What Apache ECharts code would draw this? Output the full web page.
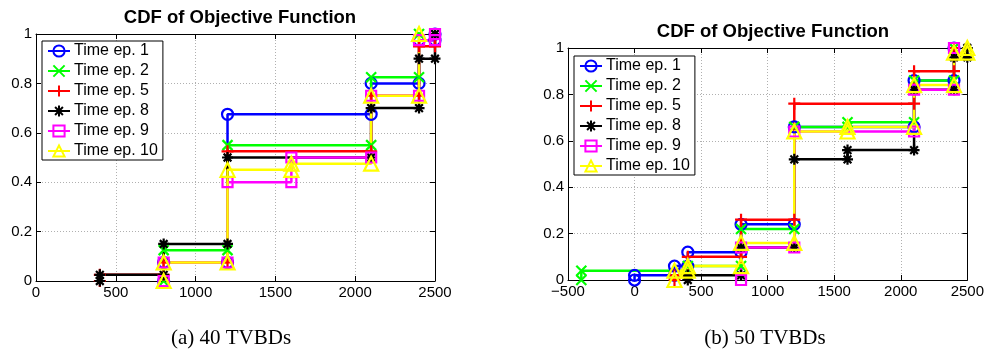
<!DOCTYPE html>
<html>
<head>
<meta charset="utf-8">
<script src="https://cdn.jsdelivr.net/npm/echarts@6/dist/echarts.min.js"></script>
<style>
  html, body { margin: 0; padding: 0; background: #fff; }
  #chart { width: 987px; height: 352px; }
</style>
</head>
<body>
<div id="chart"></div>
<script>
// ---------------------------------------------------------------------------
// data : steps of each CDF (x where it jumps, value after the jump)
const seriesNames = ['Time ep. 1', 'Time ep. 2', 'Time ep. 5', 'Time ep. 8', 'Time ep. 9', 'Time ep. 10'];

// (a) 40 TVBDs
const tA1 = [800, 1200, 2100, 2400, 2500];
const fA1 = [0.075, 0.675, 0.8, 0.975, 1];
const tA2 = [800, 1200, 2100, 2400];
const fA2 = [0.125, 0.55, 0.825, 1];
const tA5 = [400, 800, 1200, 2100, 2400, 2500];
const fA5 = [0.025, 0.075, 0.525, 0.75, 0.95, 1];
const tA8 = [400, 800, 1200, 2100, 2400, 2500];
const fA8 = [0.025, 0.15, 0.5, 0.7, 0.9, 1];
const tA9 = [800, 1200, 1600, 2100, 2400, 2500];
const fA9 = [0.075, 0.4, 0.5, 0.75, 0.975, 1];
const tA10 = [800, 1200, 1600, 2100, 2400];
const fA10 = [0.075, 0.45, 0.475, 0.75, 1];

// (b) 50 TVBDs
const tB1 = [0, 300, 400, 800, 1200, 2100, 2400];
const fB1 = [0.02, 0.06, 0.12, 0.24, 0.66, 0.86, 1];
const tB2 = [-400, 400, 800, 1200, 1600, 2100, 2400];
const fB2 = [0.04, 0.06, 0.22, 0.66, 0.68, 0.86, 1];
const tB5 = [300, 400, 800, 1200, 2100, 2400];
const fB5 = [0.02, 0.1, 0.26, 0.76, 0.9, 1];
const tB8 = [400, 800, 1200, 1600, 2100, 2400, 2500];
const fB8 = [0.02, 0.14, 0.52, 0.56, 0.82, 0.96, 1];
const tB9 = [800, 1200, 2100, 2400];
const fB9 = [0.14, 0.64, 0.82, 1];
const tB10 = [300, 400, 800, 1200, 1600, 2100, 2400, 2500];
const fB10 = [0.04, 0.06, 0.16, 0.64, 0.66, 0.84, 0.98, 1];

const xTicksA = [0, 2500];
const xTicksB = [-500, 2500];
const tickStep = 500;

// ---------------------------------------------------------------------------
const colors = ['#0000ff', '#00ff00', '#ff0000', '#000000', '#ff00ff', '#ffff00'];
const symbols = [
  'circle',
  'path://M0,0L10,10M10,0L0,10',
  'path://M5,0L5,10M0,5L10,5',
  'path://M5,0L5,10M0,5L10,5M1.5,1.5L8.5,8.5M8.5,1.5L1.5,8.5',
  'rect',
  'triangle'
];
const symbolSizes = [11, 10, 12, 11, 10, 14];
const fontFamily = '"Liberation Sans", Arial, Helvetica, sans-serif';

// turn a list of steps into the corners of a staircase
function stairs(t, f) {
  'use strict';
  let pts = [[t[0], 0]];
  for (let i = 0; i < t.length; i++) {
    pts.push([t[i], f[i]]);
    if (i + 1 < t.length) {
      pts.push([t[i + 1], f[i]]);
    }
  }
  return pts;
}

function makeSeries(k, t, f, axisIdx) {
  'use strict';
  return {
    name: seriesNames[k],
    type: 'line',
    xAxisIndex: axisIdx,
    yAxisIndex: axisIdx,
    data: stairs(t, f),
    clip: false,
    showSymbol: true,
    showAllSymbol: true,
    symbol: symbols[k],
    symbolSize: symbolSizes[k],
    lineStyle: {color: colors[k], width: 2.5},
    itemStyle: {color: 'rgba(0,0,0,0)', borderColor: colors[k], borderWidth: 2.2},
    emphasis: {disabled: true},
    animation: false
  };
}

function minusSign(v) {
  return String(v).replace('-', '\u2212');
}

function bottomAxis(gridIdx, range) {
  return {
    gridIndex: gridIdx, type: 'value', position: 'bottom',
    min: range[0], max: range[1], interval: tickStep,
    axisLine: {show: true, onZero: false, lineStyle: {color: '#000', width: 1}},
    axisTick: {show: true, inside: true, length: 5, lineStyle: {color: '#000'}},
    axisLabel: {color: '#000', fontSize: 15, fontFamily: fontFamily, margin: 4, formatter: minusSign},
    splitLine: {show: true, lineStyle: {color: '#b0b0b0', type: [1, 2], width: 1}}
  };
}
function topAxis(gridIdx, range) {
  return {
    gridIndex: gridIdx, type: 'value', position: 'top',
    min: range[0], max: range[1], interval: tickStep,
    axisLine: {show: true, onZero: false, lineStyle: {color: '#000', width: 1}},
    axisTick: {show: true, inside: true, length: 5, lineStyle: {color: '#000'}},
    axisLabel: {show: false},
    splitLine: {show: false}
  };
}
function leftAxis(gridIdx) {
  return {
    gridIndex: gridIdx, type: 'value', position: 'left',
    min: 0, max: 1, interval: 0.2,
    axisLine: {show: true, onZero: false, lineStyle: {color: '#000', width: 1}},
    axisTick: {show: true, inside: true, length: 5, lineStyle: {color: '#000'}},
    axisLabel: {color: '#000', fontSize: 15, fontFamily: fontFamily, margin: 4},
    splitLine: {show: true, lineStyle: {color: '#b0b0b0', type: [1, 2], width: 1}}
  };
}
function rightAxis(gridIdx) {
  return {
    gridIndex: gridIdx, type: 'value', position: 'right',
    min: 0, max: 1, interval: 0.2,
    axisLine: {show: true, onZero: false, lineStyle: {color: '#000', width: 1}},
    axisTick: {show: true, inside: true, length: 5, lineStyle: {color: '#000'}},
    axisLabel: {show: false},
    splitLine: {show: false}
  };
}

function legendAt(left, top) {
  return {
    orient: 'vertical',
    left: left, top: top,
    data: seriesNames,
    backgroundColor: '#fff',
    borderColor: '#000', borderWidth: 1, borderRadius: 0,
    padding: [2, 5, 1, 5],
    itemGap: 4,
    itemWidth: 22, itemHeight: 14,
    selectedMode: false,
    textStyle: {color: '#000', fontSize: 16, fontFamily: fontFamily, padding: [0, 0, 0, -1]}
  };
}

const tAll = [tA1, tA2, tA5, tA8, tA9, tA10];
const fAll = [fA1, fA2, fA5, fA8, fA9, fA10];
const tBll = [tB1, tB2, tB5, tB8, tB9, tB10];
const fBll = [fB1, fB2, fB5, fB8, fB9, fB10];

let seriesList = [];
for (let k = 0; k < 6; k++) { seriesList.push(makeSeries(k, tAll[k], fAll[k], 0)); }
for (let k = 0; k < 6; k++) { seriesList.push(makeSeries(k, tBll[k], fBll[k], 1)); }

const chart = echarts.init(document.getElementById('chart'), null, {renderer: 'canvas'});
const option = {
  backgroundColor: '#fff',
  animation: false,
  title: [
    {text: 'CDF of Objective Function', left: 235, top: 3, textAlign: 'center',
      textStyle: {fontSize: 18.5, fontWeight: 'bold', color: '#000', fontFamily: fontFamily}},
    {text: 'CDF of Objective Function', left: 768, top: 17, textAlign: 'center',
      textStyle: {fontSize: 18.5, fontWeight: 'bold', color: '#000', fontFamily: fontFamily}},
    {text: '(a) 40 TVBDs', left: 226, top: 323, textAlign: 'center',
      textStyle: {fontSize: 21, fontWeight: 'normal', color: '#000', fontFamily: '"Liberation Serif", "Times New Roman", serif'}},
    {text: '(b) 50 TVBDs', left: 760, top: 323, textAlign: 'center',
      textStyle: {fontSize: 21, fontWeight: 'normal', color: '#000', fontFamily: '"Liberation Serif", "Times New Roman", serif'}}
  ],
  grid: [
    {left: 36, top: 34, width: 399, height: 247},
    {left: 568, top: 48, width: 400, height: 232}
  ],
  legend: [legendAt(42, 41), legendAt(574, 56)],
  // axes 0/1 : drawn with labels, axes 2/3 : box sides with ticks only
  xAxis: [bottomAxis(0, xTicksA), bottomAxis(1, xTicksB), topAxis(0, xTicksA), topAxis(1, xTicksB)],
  yAxis: [leftAxis(0), leftAxis(1), rightAxis(0), rightAxis(1)],
  series: seriesList
};

option && chart.setOption(option);
</script>
</body>
</html>
